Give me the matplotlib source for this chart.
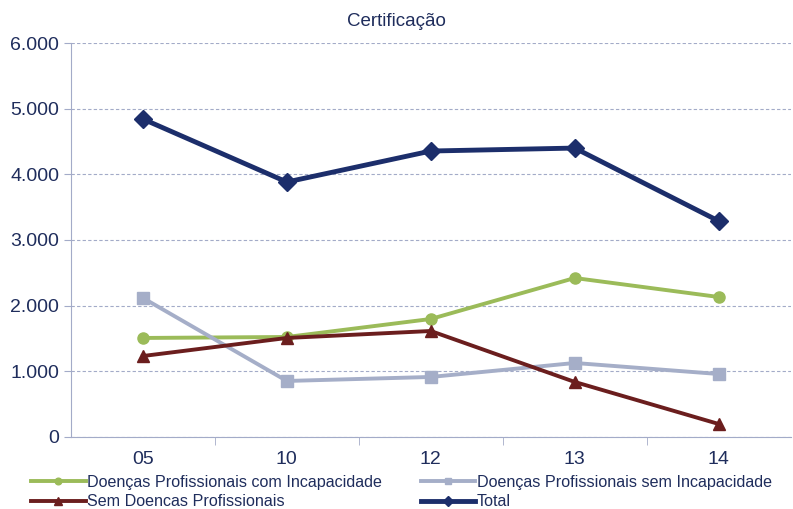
import matplotlib.pyplot as plt
from matplotlib.ticker import FuncFormatter, FixedLocator
import numpy as np

plt.rcParams['font.family'] = ['Liberation Sans', 'DejaVu Sans']

anos = ['05', '10', '12', '13', '14']
com_incapacidade = [1508, 1523, 1797, 2421, 2132]
sem_incapacidade = [2117, 853, 914, 1127, 959]
sem_doencas = [1233, 1508, 1614, 838, 198]
total = [4842, 3883, 4355, 4400, 3289]

TXT = '#1F2D5C'
AXC = '#A3ABC8'

fig = plt.figure(figsize=(7.93, 5.09), dpi=100)
ax = fig.add_axes([0.0895, 0.1415, 0.9075, 0.774])

x = np.arange(len(anos))
l1, = ax.plot(x, com_incapacidade, color='#9BBB59', lw=2.8, marker='o', ms=8,
              label='Doenças Profissionais com Incapacidade')
l2, = ax.plot(x, sem_incapacidade, color='#A5AEC8', lw=2.8, marker='s', ms=8,
              label='Doenças Profissionais sem Incapacidade')
l3, = ax.plot(x, sem_doencas, color='#6B1E1E', lw=2.8, marker='^', ms=9,
              label='Sem Doencas Profissionais')
l4, = ax.plot(x, total, color='#1C2E6B', lw=3.5, marker='D', ms=9,
              label='Total')

ax.set_xlim(-0.5, len(anos) - 0.5)
ax.set_ylim(0, 6000)
ax.set_yticks(np.arange(0, 6001, 1000))
ax.yaxis.set_major_formatter(FuncFormatter(lambda v, p: f'{int(v):,}'.replace(',', '.')))
ax.set_xticks(x)
ax.set_xticklabels(anos)
ax.xaxis.set_minor_locator(FixedLocator(np.arange(0.5, len(anos) - 0.5, 1)))
ax.tick_params(axis='x', which='major', length=0, pad=10, labelsize=14, labelcolor=TXT)
ax.tick_params(axis='x', which='minor', length=6, color=AXC, direction='out')
ax.tick_params(axis='y', length=5, color=AXC, labelsize=14, labelcolor=TXT)

ax.grid(axis='y', color=AXC, linestyle=(0, (3, 2)), lw=0.8)
ax.set_axisbelow(True)
for s in ['top', 'right']:
    ax.spines[s].set_visible(False)
for s in ['left', 'bottom']:
    ax.spines[s].set_color(AXC)

fig.text(0.5, 1 - 21 / 509, 'Certificação', color=TXT, fontsize=13.5,
         ha='center', va='center')

# ordem por linhas (ncol=2 preenche por colunas)
leg = ax.legend([l1, l3, l2, l4], [l.get_label() for l in (l1, l3, l2, l4)],
                loc='upper left', bbox_to_anchor=(-0.076, -0.06), ncol=2,
                frameon=False, fontsize=11.6, handlelength=3.4, handletextpad=0.1,
                columnspacing=2.4, labelspacing=0.25, markerscale=0.6)
for t in leg.get_texts():
    t.set_color(TXT)

fig.savefig('out.png', dpi=100)
